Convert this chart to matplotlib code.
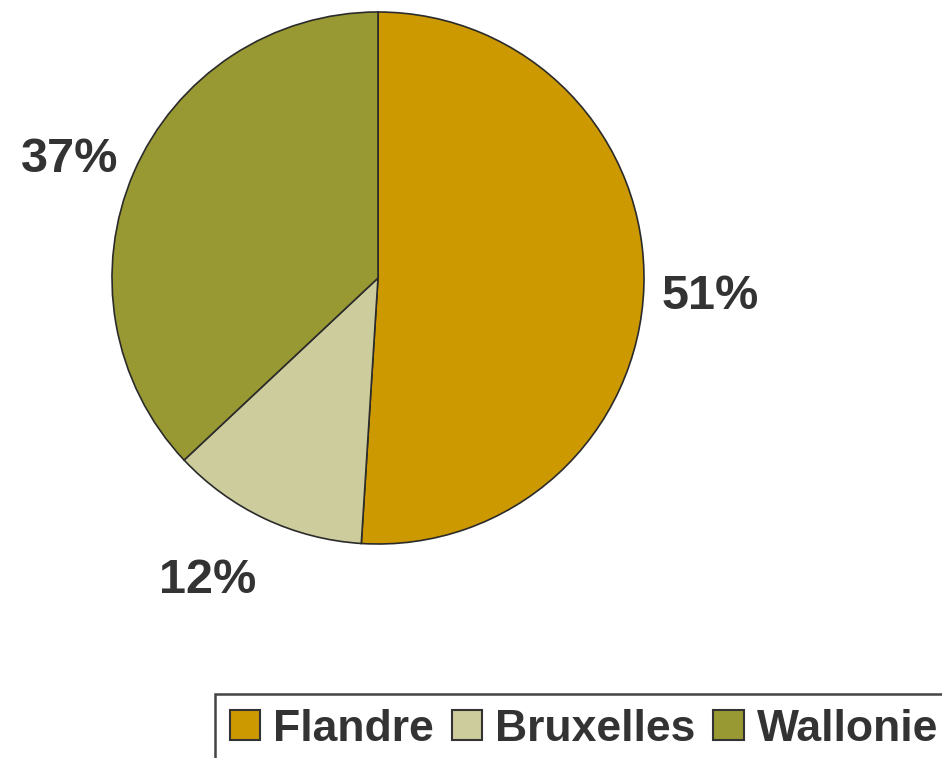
import matplotlib.pyplot as plt

# Data
regions = ['Flandre', 'Bruxelles', 'Wallonie']
shares = [51, 12, 37]
colors = ['#CC9900', '#CCCC9C', '#999933']

# label anchors (data units of the pie axes), nudged like the original
label_pos = [(1.248, -0.071), (-0.639, -1.139), (-1.158, 0.447)]

plt.rcParams['font.family'] = ['Liberation Sans', 'DejaVu Sans']

fig = plt.figure(figsize=(9.42, 7.58), dpi=100)
cx, cy, r = 378, 278, 266
ax = fig.add_axes([(cx - r) / 942, 1 - (cy + r) / 758, 2 * r / 942, 2 * r / 758])

wedges, texts, autotexts = ax.pie(
    shares, colors=colors, startangle=90, counterclock=False,
    autopct='%d%%', pctdistance=1.26, radius=1,
    wedgeprops=dict(edgecolor='#2b2b2b', linewidth=1.2),
    textprops=dict(fontsize=35, fontweight='bold', color='#333333'),
)
for t, p in zip(autotexts, label_pos):
    t.set_position(p)
ax.set_xlim(-1, 1)
ax.set_ylim(-1, 1)
ax.set_aspect('equal')

leg = fig.legend(
    wedges, regions, loc='upper left',
    bbox_to_anchor=(215 / 942, 1 - 694 / 758), ncol=3,
    prop=dict(size=32, weight='bold'), labelcolor='#333333',
    handlelength=0.68, handleheight=0.68, handletextpad=0.3,
    columnspacing=0.4, borderpad=0.33, borderaxespad=0,
    fancybox=False, framealpha=1,
)
leg.get_frame().set_edgecolor('#444444')
leg.get_frame().set_linewidth(1.8)
for h in leg.legend_handles:
    h.set_edgecolor('#333333')
    h.set_linewidth(1.5)

fig.savefig('out.png', dpi=100)
